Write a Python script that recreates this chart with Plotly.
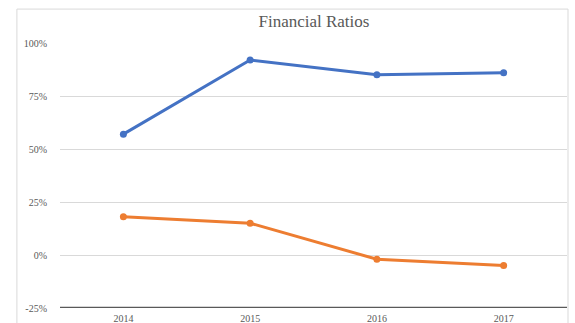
import plotly.graph_objects as go

years = ["2014", "2015", "2016", "2017"]
series_a = [57, 92, 85, 86]
series_b = [18, 15, -2, -5]
y_ticks = [-25, 0, 25, 50, 75, 100]
y_labels = ["-25%", "0%", "25%", "50%", "75%", "100%"]

SERIF = "Times New Roman, Liberation Serif, DejaVu Serif, serif"

fig = go.Figure()
fig.add_trace(go.Scatter(x=years, y=series_a, mode="lines+markers",
                         line=dict(color="#4472C4", width=3),
                         marker=dict(size=7, color="#4472C4"), showlegend=False))
fig.add_trace(go.Scatter(x=years, y=series_b, mode="lines+markers",
                         line=dict(color="#ED7D31", width=3),
                         marker=dict(size=7, color="#ED7D31"), showlegend=False))

fig.update_layout(
    width=575, height=323,
    margin=dict(l=60, r=8, t=43, b=15),
    paper_bgcolor="white", plot_bgcolor="white",
    font=dict(family=SERIF, color="#595959", size=10),
    title=dict(text="Financial Ratios", x=0.546, xanchor="center", y=0.935, yanchor="middle",
               font=dict(family=SERIF, size=17, color="#595959")),
    xaxis=dict(type="category", range=[-0.5, 3.5], showgrid=False, zeroline=False,
               showline=False, ticks="", automargin=False, ticklabelstandoff=3,
               tickfont=dict(family=SERIF, size=10, color="#595959")),
    yaxis=dict(range=[-25, 100], tickmode="array", tickvals=y_ticks, ticktext=y_labels,
               showgrid=True, gridcolor="#D9D9D9", gridwidth=1, zeroline=False,
               showline=False, ticks="", automargin=False, ticklabelstandoff=12,
               tickfont=dict(family=SERIF, size=10, color="#595959")),
    shapes=[
        dict(type="rect", xref="paper", yref="paper", x0=-0.085, x1=1.002, y0=-0.2, y1=1.128,
             line=dict(color="#D9D9D9", width=1), fillcolor="rgba(0,0,0,0)", layer="below"),
        dict(type="line", xref="paper", yref="y", x0=0, x1=1, y0=-25, y1=-25,
             line=dict(color="#595959", width=2.5)),
    ],
)

fig.write_html("out.html")
